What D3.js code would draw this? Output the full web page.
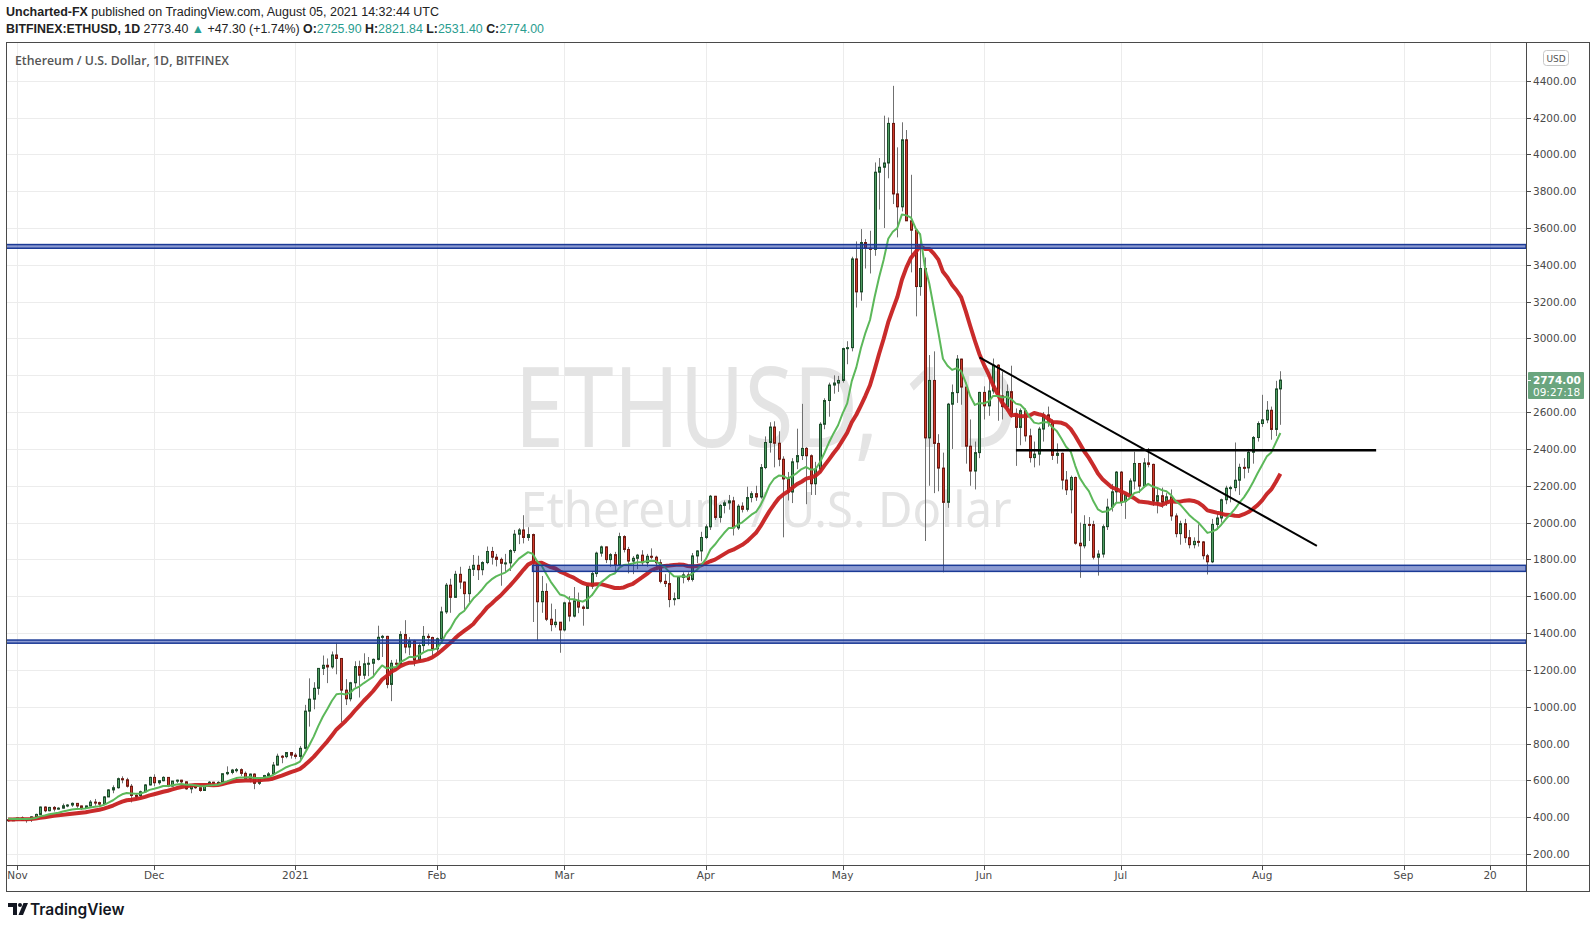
<!DOCTYPE html>
<html>
<head>
<meta charset="utf-8">
<script src="https://cdn.jsdelivr.net/npm/d3@7"></script>
<style>
  body { margin: 0; background: #fff; }
  svg { display: block; }
</style>
</head>
<body>
<svg id="chart"></svg>
<script>
// daily candles [open, high, low, close], first bar = 2020-10-30
const oct2020 = [[386,392,375,383],[383,395,380,386]];
const nov2020 = [
  [386,399,383,396],[396,404,380,383],[383,390,370,388],[388,405,374,402],[402,419,398,415],
  [415,458,412,455],[455,459,427,435],[435,456,432,453],[453,460,431,444],[444,454,441,449],
  [449,474,447,462],[462,471,454,466],[466,480,456,475],[475,476,451,461],[461,463,440,448],
  [448,463,444,461],[461,493,458,482],[482,499,462,479],[479,484,460,471],[471,514,470,510],
  [510,552,509,548],[548,573,530,560],[560,615,555,609],[609,622,584,603],[603,614,561,568],
  [568,580,480,518],[518,530,495,517],[517,544,508,538],[538,580,532,575],[575,620,572,616]
];
const dec2020 = [
  [616,633,568,587],[587,602,577,598],[598,622,595,616],[616,618,563,569],[569,597,566,596],
  [596,604,585,601],[601,603,583,592],[592,594,549,554],[554,576,530,573],[573,575,554,560],
  [560,561,538,545],[545,571,543,568],[568,596,566,590],[590,592,581,586],[586,595,578,589],
  [589,637,586,636],[636,676,628,643],[643,662,633,656],[656,667,643,658],[658,665,624,638],
  [638,648,603,609],[609,637,589,634],[634,638,552,584],[584,614,575,611],[611,630,601,626],
  [626,645,617,635],[635,700,630,683],[683,745,681,731],[731,737,693,729],[729,753,720,751],
  [751,754,718,737]
];
const jan2021 = [
  [737,749,717,730],[730,787,714,774],[774,1010,768,976],[976,1154,892,1041],[1041,1133,986,1100],
  [1100,1210,1065,1208],[1208,1278,1172,1225],[1225,1262,1128,1216],[1216,1300,1206,1281],[1281,1347,1176,1262],
  [1262,1264,917,1090],[1090,1150,1009,1043],[1043,1135,1029,1130],[1130,1247,1105,1218],[1218,1250,1050,1171],
  [1171,1290,1150,1233],[1233,1270,1166,1236],[1236,1262,1170,1257],[1257,1440,1251,1377],[1377,1390,1270,1382],
  [1382,1385,1100,1121],[1121,1254,1030,1236],[1236,1257,1203,1231],[1231,1410,1223,1392],[1392,1470,1290,1324],
  [1324,1378,1280,1357],[1357,1363,1220,1253],[1253,1348,1242,1332],[1332,1438,1300,1382],[1382,1397,1333,1376],
  [1376,1380,1276,1314]
];
const feb2021 = [
  [1314,1376,1296,1369],[1369,1543,1360,1515],[1515,1672,1504,1660],[1660,1695,1510,1594],[1594,1738,1594,1719],
  [1719,1760,1640,1677],[1677,1680,1521,1614],[1614,1765,1567,1746],[1746,1824,1710,1768],[1768,1820,1688,1744],
  [1744,1790,1714,1783],[1783,1870,1774,1843],[1843,1868,1772,1812],[1812,1830,1762,1800],[1800,1810,1657,1779],
  [1779,1830,1730,1781],[1781,1855,1737,1848],[1848,1960,1835,1937],[1937,1970,1883,1960],[1960,2040,1887,1919],
  [1919,1975,1901,1935],[1935,1940,1460,1781],[1781,1782,1360,1570],[1570,1710,1510,1626],[1626,1670,1465,1475],
  [1475,1560,1410,1446],[1446,1530,1430,1459],[1459,1460,1293,1417]
];
const mar2021 = [
  [1417,1570,1409,1564],[1564,1600,1463,1492],[1492,1650,1485,1575],[1575,1620,1508,1541],[1541,1550,1440,1534],
  [1534,1670,1530,1655],[1655,1737,1640,1723],[1723,1842,1705,1834],[1834,1875,1815,1868],[1868,1870,1780,1799],
  [1799,1834,1760,1826],[1826,1841,1732,1772],[1772,1945,1762,1924],[1924,1931,1838,1854],[1854,1868,1724,1791],
  [1791,1818,1720,1806],[1806,1830,1747,1823],[1823,1850,1770,1782],[1782,1830,1760,1817],[1817,1860,1800,1812],
  [1812,1820,1750,1782],[1782,1800,1670,1681],[1681,1720,1650,1669],[1669,1728,1540,1582],[1582,1620,1550,1587],
  [1587,1702,1585,1702],[1702,1730,1670,1716],[1716,1730,1680,1691],[1691,1835,1680,1819],[1819,1850,1780,1846],
  [1846,1950,1790,1919]
];
const apr2021 = [
  [1919,1990,1910,1977],[1977,2150,1960,2143],[2143,2145,2015,2028],[2028,2100,2000,2093],[2093,2120,2050,2107],
  [2107,2150,2070,2118],[2118,2140,1930,1971],[1971,2100,1960,2089],[2089,2110,2055,2072],[2072,2195,2060,2136],
  [2136,2170,2110,2157],[2157,2200,2118,2139],[2139,2318,2130,2299],[2299,2468,2290,2435],[2435,2545,2380,2519],
  [2519,2550,2300,2431],[2431,2496,2306,2344],[2344,2360,1920,2237],[2237,2275,2120,2166],[2166,2350,2106,2330],
  [2330,2510,2290,2364],[2364,2645,2340,2403],[2403,2410,2100,2363],[2363,2370,2150,2211],[2211,2330,2150,2291],
  [2291,2545,2270,2534],[2534,2675,2507,2663],[2663,2760,2575,2747],[2747,2800,2700,2758],[2758,2797,2710,2772]
];
const may2021 = [
  [2772,2950,2760,2945],[2945,2985,2860,2950],[2950,3444,2930,3432],[3432,3527,3168,3253],[3253,3594,3205,3521],
  [3521,3540,3380,3490],[3490,3585,3353,3484],[3484,3956,3449,3903],[3903,3980,3700,3930],[3930,4210,3600,3953],
  [3953,4200,3870,4168],[4168,4372,3730,3785],[3785,4038,3549,3715],[3715,4174,3690,4079],[4079,4132,3638,3639],
  [3639,3889,3359,3588],[3588,3590,3120,3282],[3282,3569,3232,3380],[3380,3440,1900,2460],[2460,2910,2200,2772],
  [2772,2930,2160,2430],[2430,2480,2170,2296],[2296,2380,1730,2110],[2110,2650,2080,2643],[2643,2750,2400,2706],
  [2706,2910,2650,2888],[2888,2890,2640,2736],[2736,2760,2320,2415],[2415,2560,2200,2280],[2280,2440,2180,2380],
  [2380,2710,2350,2707]
];
const jun2021 = [
  [2707,2740,2560,2634],[2634,2800,2580,2715],[2715,2891,2700,2855],[2855,2860,2553,2688],[2688,2820,2560,2630],
  [2630,2750,2620,2711],[2711,2852,2570,2590],[2590,2620,2308,2517],[2517,2620,2420,2608],[2608,2620,2440,2471],
  [2471,2510,2326,2353],[2353,2440,2300,2372],[2372,2520,2310,2508],[2508,2600,2440,2585],[2585,2630,2520,2545],
  [2545,2560,2340,2365],[2365,2430,2320,2376],[2376,2380,2180,2231],[2231,2280,2150,2178],[2178,2255,2050,2245],
  [2245,2250,1880,1888],[1888,2000,1700,1874],[1874,2040,1860,1990],[1990,2030,1900,1989],[1989,2010,1800,1812],
  [1812,1850,1712,1829],[1829,1990,1810,1978],[1978,2130,1960,2084],[2084,2210,2060,2167],[2167,2280,2110,2274]
];
const jul2021 = [
  [2274,2280,2090,2114],[2114,2160,2020,2150],[2150,2240,2130,2226],[2226,2385,2180,2321],[2321,2322,2160,2198],
  [2198,2350,2190,2324],[2324,2405,2300,2316],[2316,2320,2090,2116],[2116,2190,2050,2146],[2146,2190,2080,2111],
  [2111,2160,2090,2140],[2140,2180,2010,2036],[2036,2050,1920,1940],[1940,2010,1880,1994],[1994,2020,1890,1918],
  [1918,1960,1860,1880],[1880,1920,1860,1898],[1898,1990,1870,1895],[1895,1900,1800,1820],[1820,1830,1718,1787],
  [1787,2020,1780,1990],[1990,2050,1960,2025],[2025,2130,2000,2124],[2124,2200,2100,2187],[2187,2200,2110,2190],
  [2190,2435,2170,2230],[2230,2320,2150,2300],[2300,2350,2240,2297],[2297,2400,2270,2382],[2382,2470,2320,2462],
  [2462,2550,2440,2538]
];
const aug2021 = [
  [2538,2694,2520,2558],[2558,2660,2540,2610],[2610,2630,2450,2506],[2506,2770,2470,2726],[2726,2822,2531,2774]
];

// closes before the first visible bar (2020-10-10 .. 2020-10-29), used by the moving averages
const warmupCloses = [370, 375, 387, 381, 379, 377, 366, 368, 378, 379, 368, 392, 413, 410, 412, 406, 393, 404, 388, 386];

const priceTicks = [200, 400, 600, 800, 1000, 1200, 1400, 1600, 1800, 2000, 2200, 2400,
                    2600, 2800, 3000, 3200, 3400, 3600, 3800, 4000, 4200, 4400];
const priceLabelTicks = [200, 400, 600, 800, 1000, 1200, 1400, 1600, 1800, 2000, 2200, 2400,
                         2600, 3000, 3200, 3400, 3600, 3800, 4000, 4200, 4400];
const timeTicks = ['2020-11-01', '2020-12-01', '2021-01-01', '2021-02-01', '2021-03-01', '2021-04-01',
                   '2021-05-01', '2021-06-01', '2021-07-01', '2021-08-01', '2021-09-01', '2021-09-20'];
const timeLabels = ['Nov', 'Dec', '2021', 'Feb', 'Mar', 'Apr', 'May', 'Jun', 'Jul', 'Aug', 'Sep', '20'];

// drawings
const zones = [
  { from: null, top: 3510, bottom: 3490 },
  { from: '2021-02-22', top: 1768, bottom: 1735 },
  { from: null, top: 1362, bottom: 1345 }
];
const trendLine = [['2021-05-31', 2897], ['2021-08-13', 1874]];
const levelLine = [['2021-06-08', 2393], ['2021-08-26', 2393]];

const lastPrice = 2774.0;
const countdown = '09:27:18';

// ---------------------------------------------------------------
const W = 1595, H = 929;
const pane = { left: 6, top: 43, right: 1526, bottom: 865 };
const frame = { right: 1589, bottom: 891 };
const axisFont = '"DejaVu Sans", sans-serif';

const svg = d3.select('#chart').attr('width', W).attr('height', H)
  .style('font-family', '"Liberation Sans", Arial, sans-serif');

const parse = d3.utcParse('%Y-%m-%d');
const x = d3.scaleUtc()
  .domain([parse('2020-11-01'), parse('2021-09-01')])
  .range([17.3, 1403.5]);
const y = d3.scaleLinear().domain([200, 4400]).range([854, 80.7]);

const rows = [].concat(oct2020, nov2020, dec2020, jan2021, feb2021, mar2021,
                       apr2021, may2021, jun2021, jul2021, aug2021);
const candles = rows.map((r, i) => ({
  date: new Date(Date.UTC(2020, 9, 30 + i)),
  open: r[0], high: r[1], low: r[2], close: r[3]
}));

// moving averages: EMA 12 (green) and SMA 20 (red)
const allCloses = warmupCloses.concat(candles.map(d => d.close));
const off = warmupCloses.length;
let ema = allCloses[0];
const k = 2 / (12 + 1);
const emaAll = allCloses.map(c => (ema = ema + k * (c - ema)));
const emaLine = candles.map((d, i) => ({ date: d.date, v: emaAll[i + off] }));
const smaLine = candles.map((d, i) => ({
  date: d.date,
  v: d3.mean(allCloses.slice(i + off - 19, i + off + 1))
}));

// clip to pane
svg.append('defs').append('clipPath').attr('id', 'pane-clip')
  .append('rect')
  .attr('x', pane.left).attr('y', pane.top)
  .attr('width', pane.right - pane.left).attr('height', pane.bottom - pane.top);

const g = svg.append('g').attr('clip-path', 'url(#pane-clip)');

// grid
g.append('g').selectAll('line')
  .data(priceTicks)
  .enter().append('line')
  .attr('x1', pane.left).attr('x2', pane.right)
  .attr('y1', d => Math.round(y(d)) + 0.5).attr('y2', d => Math.round(y(d)) + 0.5)
  .attr('stroke', '#ececec');
g.append('g').selectAll('line')
  .data(timeTicks)
  .enter().append('line')
  .attr('x1', d => Math.round(x(parse(d))) + 0.5).attr('x2', d => Math.round(x(parse(d))) + 0.5)
  .attr('y1', pane.top).attr('y2', pane.bottom)
  .attr('stroke', '#ececec');

// watermark
const midX = (pane.left + pane.right) / 2;
g.append('text')
  .attr('x', midX).attr('y', 447)
  .attr('text-anchor', 'middle')
  .attr('textLength', 503).attr('lengthAdjust', 'spacingAndGlyphs')
  .style('font-family', '"Noto Sans", sans-serif')
  .style('font-size', '112px')
  .style('fill', '#e4e4e4')
  .text('ETHUSD, 1D');
g.append('text')
  .attr('x', midX).attr('y', 527)
  .attr('text-anchor', 'middle')
  .attr('textLength', 491).attr('lengthAdjust', 'spacingAndGlyphs')
  .style('font-family', '"Noto Sans", sans-serif')
  .style('font-size', '50px')
  .style('fill', '#e4e4e4')
  .text('Ethereum / U.S. Dollar');

// candles
const cg = g.append('g');
const up = d => d.close >= d.open;
cg.selectAll('.wick')
  .data(candles)
  .enter().append('line')
  .attr('class', 'wick')
  .attr('x1', d => Math.round(x(d.date)) + 0.5).attr('x2', d => Math.round(x(d.date)) + 0.5)
  .attr('y1', d => y(d.high)).attr('y2', d => y(d.low))
  .attr('stroke', '#707070').attr('stroke-width', 1);
cg.selectAll('.body')
  .data(candles)
  .enter().append('rect')
  .attr('class', 'body')
  .attr('x', d => Math.round(x(d.date)) - 0.5)
  .attr('width', 2)
  .attr('y', d => y(Math.max(d.open, d.close)))
  .attr('height', d => Math.max(1, Math.abs(y(d.open) - y(d.close))))
  .attr('fill', d => (up(d) ? '#4f9d63' : '#cf3a2c'))
  .attr('stroke', d => (up(d) ? '#1d4d2b' : '#6e1a12'))
  .attr('stroke-width', 1);

// moving averages
const maLine = d3.line().x(d => x(d.date)).y(d => y(d.v));
g.append('path').datum(smaLine)
  .attr('d', maLine)
  .attr('fill', 'none')
  .attr('stroke', '#c62020')
  .attr('stroke-width', 4)
  .attr('stroke-linejoin', 'round')
  .attr('stroke-opacity', 0.95);
g.append('path').datum(emaLine)
  .attr('d', maLine)
  .attr('fill', 'none')
  .attr('stroke', '#5cb85a')
  .attr('stroke-width', 2)
  .attr('stroke-linejoin', 'round');

// zones
g.append('g').selectAll('rect')
  .data(zones)
  .enter().append('rect')
  .attr('x', d => (d.from ? x(parse(d.from)) : pane.left))
  .attr('width', d => pane.right - (d.from ? x(parse(d.from)) : pane.left))
  .attr('y', d => y(d.top))
  .attr('height', d => y(d.bottom) - y(d.top))
  .attr('fill', 'rgba(25, 55, 165, 0.5)')
  .attr('stroke', '#1b3a96')
  .attr('stroke-width', 1.5);

// trend lines
g.append('line')
  .attr('x1', x(parse(trendLine[0][0]))).attr('y1', y(trendLine[0][1]))
  .attr('x2', x(parse(trendLine[1][0]))).attr('y2', y(trendLine[1][1]))
  .attr('stroke', '#000').attr('stroke-width', 2);
g.append('line')
  .attr('x1', x(parse(levelLine[0][0]))).attr('y1', y(levelLine[0][1]))
  .attr('x2', x(parse(levelLine[1][0]))).attr('y2', y(levelLine[1][1]))
  .attr('stroke', '#000').attr('stroke-width', 2.5);

// frame
svg.append('rect')
  .attr('x', pane.left + 0.5).attr('y', pane.top - 0.5)
  .attr('width', frame.right - pane.left).attr('height', frame.bottom - pane.top + 1)
  .attr('fill', 'none').attr('stroke', '#4a4a4a');
svg.append('line')
  .attr('x1', pane.right + 0.5).attr('x2', pane.right + 0.5)
  .attr('y1', pane.top).attr('y2', frame.bottom)
  .attr('stroke', '#4a4a4a');
svg.append('line')
  .attr('x1', pane.left).attr('x2', frame.right)
  .attr('y1', pane.bottom + 0.5).attr('y2', pane.bottom + 0.5)
  .attr('stroke', '#4a4a4a');

// price axis
const pa = svg.append('g');
pa.selectAll('line')
  .data(priceLabelTicks)
  .enter().append('line')
  .attr('x1', pane.right + 1).attr('x2', pane.right + 5)
  .attr('y1', d => Math.round(y(d)) + 0.5).attr('y2', d => Math.round(y(d)) + 0.5)
  .attr('stroke', '#4a4a4a');
pa.selectAll('text')
  .data(priceLabelTicks)
  .enter().append('text')
  .attr('x', pane.right + 7)
  .attr('y', d => y(d) + 4)
  .style('font-family', axisFont)
  .style('font-size', '10.5px')
  .style('fill', '#4a4a4a')
  .text(d => d3.format('.2f')(d));

// USD badge
svg.append('rect')
  .attr('x', 1543.5).attr('y', 50.5).attr('width', 25).attr('height', 15).attr('rx', 3)
  .attr('fill', '#fff').attr('stroke', '#c8c8c8');
svg.append('text')
  .attr('x', 1556).attr('y', 61.5).attr('text-anchor', 'middle')
  .style('font-family', axisFont).style('font-size', '9px').style('fill', '#555')
  .text('USD');

// last price label
const ly = y(lastPrice);
svg.append('rect')
  .attr('x', pane.right + 2).attr('y', ly - 8)
  .attr('width', 56).attr('height', 27).attr('rx', 1)
  .attr('fill', '#6aa57e');
svg.append('line')
  .attr('x1', pane.right + 1).attr('x2', pane.right + 5)
  .attr('y1', Math.round(ly) + 0.5).attr('y2', Math.round(ly) + 0.5)
  .attr('stroke', '#fff');
svg.append('text')
  .attr('x', pane.right + 7).attr('y', ly + 4)
  .style('font-family', axisFont).style('font-size', '10.5px')
  .style('font-weight', 'bold').style('fill', '#fff')
  .text(d3.format('.2f')(lastPrice));
svg.append('text')
  .attr('x', pane.right + 7).attr('y', ly + 16)
  .style('font-family', axisFont).style('font-size', '10.5px')
  .style('fill', '#fff')
  .text(countdown);

// time axis
const ta = svg.append('g');
ta.selectAll('line')
  .data(timeTicks)
  .enter().append('line')
  .attr('x1', d => Math.round(x(parse(d))) + 0.5).attr('x2', d => Math.round(x(parse(d))) + 0.5)
  .attr('y1', pane.bottom + 1).attr('y2', pane.bottom + 5)
  .attr('stroke', '#4a4a4a');
ta.selectAll('text')
  .data(timeTicks)
  .enter().append('text')
  .attr('x', d => x(parse(d)))
  .attr('y', 879)
  .attr('text-anchor', (d, i) => (i === 0 ? 'start' : 'middle'))
  .attr('dx', (d, i) => (i === 0 ? -10 : 0))
  .style('font-family', axisFont)
  .style('font-size', '10.5px')
  .style('fill', '#4a4a4a')
  .text((d, i) => timeLabels[i]);

// pane title
svg.append('text')
  .attr('x', 15).attr('y', 64.5)
  .attr('textLength', 214).attr('lengthAdjust', 'spacingAndGlyphs')
  .style('font-family', '"Open Sans", sans-serif')
  .style('font-size', '12.5px').style('font-weight', 600)
  .style('fill', '#555')
  .text('Ethereum / U.S. Dollar, 1D, BITFINEX');

// header
const h1 = svg.append('text')
  .attr('x', 6).attr('y', 16)
  .attr('textLength', 433).attr('lengthAdjust', 'spacingAndGlyphs')
  .style('font-size', '12.5px').style('fill', '#222');
h1.append('tspan').style('font-weight', 'bold').text('Uncharted-FX');
h1.append('tspan').text(' published on TradingView.com, August 05, 2021 14:32:44 UTC');

const teal = '#2a9d8f';
const h2 = svg.append('text')
  .attr('x', 6).attr('y', 33)
  .attr('textLength', 538).attr('lengthAdjust', 'spacingAndGlyphs')
  .style('font-size', '12.5px').style('fill', '#222');
h2.append('tspan').style('font-weight', 'bold').text('BITFINEX:ETHUSD, 1D');
h2.append('tspan').text('  2773.40 ');
h2.append('tspan').style('fill', teal).text('▲');
h2.append('tspan').text(' +47.30 (+1.74%) ');
[['O:', '2725.90'], ['H:', '2821.84'], ['L:', '2531.40'], ['C:', '2774.00']].forEach(([lab, val], i) => {
  h2.append('tspan').style('font-weight', 'bold').text((i ? ' ' : '') + lab);
  h2.append('tspan').style('fill', teal).text(val);
});

// TradingView logo
const logo = svg.append('g').attr('fill', '#131722');
logo.append('path').attr('d', 'M8 903 h9 v12 h-4 v-8 h-5 z');
logo.append('circle').attr('cx', 20).attr('cy', 905).attr('r', 2);
logo.append('path').attr('d', 'M23.5 903 h4.5 l-5 12 h-4.5 z');
svg.append('text')
  .attr('x', 30).attr('y', 915)
  .style('font-family', '"Inter", sans-serif')
  .style('font-size', '15.5px').style('font-weight', 600)
  .style('fill', '#131722')
  .text('TradingView');
</script>
</body>
</html>
